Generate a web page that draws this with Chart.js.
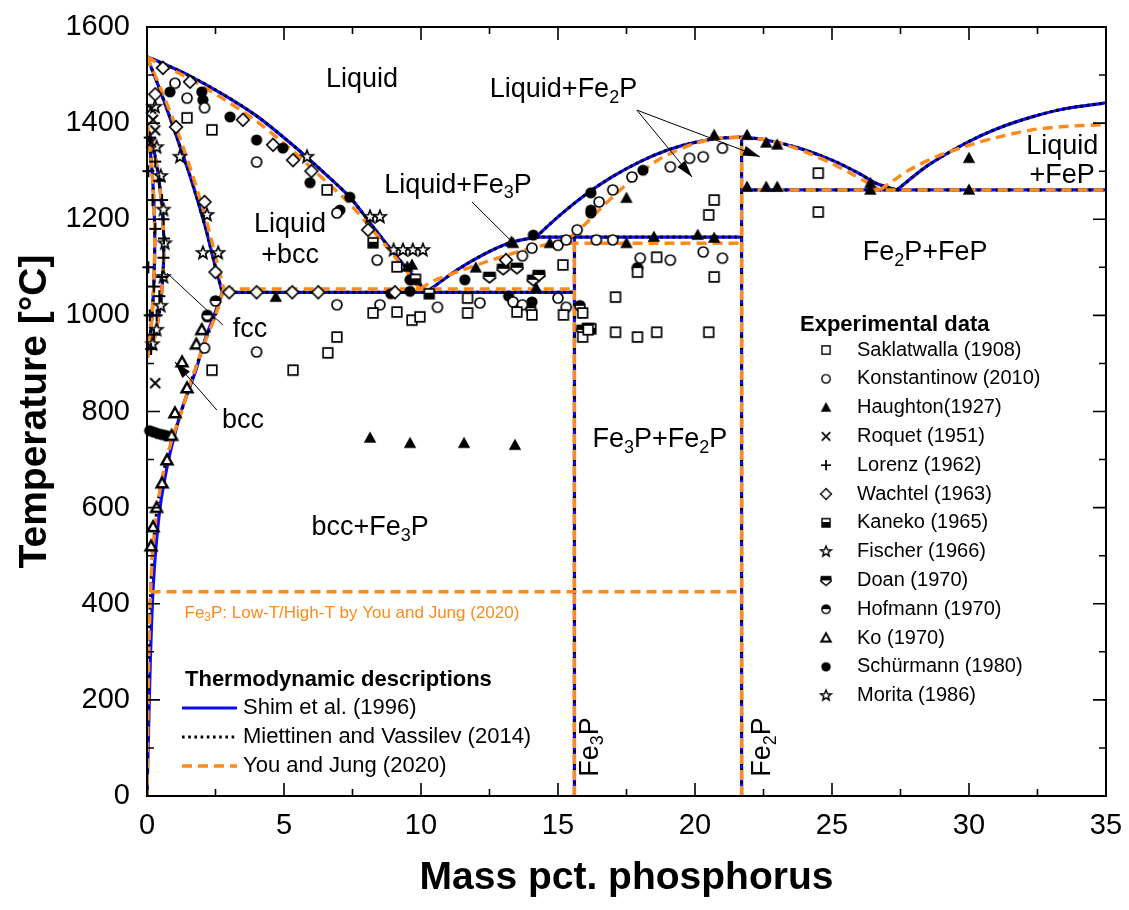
<!DOCTYPE html>
<html><head><meta charset="utf-8">
<script src="https://cdn.jsdelivr.net/npm/chart.js@4.4.1/dist/chart.umd.min.js"></script>
<style>html,body{margin:0;padding:0;background:#fff;}canvas{display:block;}</style>
</head><body>
<canvas id="c" width="1129" height="910"></canvas>
<script>
const FONT = '"Liberation Sans", Arial, Helvetica, sans-serif';
const BLUE = '#0B0BFF', ORANGE = '#FF8A1C';

// ---------- axis ticks ----------
const xMajorTicks = [0,5,10,15,20,25,30,35];
const xMinorTicks = [2.5,7.5,12.5,17.5,22.5,27.5,32.5];
const yMajorTicks = [0,200,400,600,800,1000,1200,1400,1600];
const yMinorTicks = [100,300,500,700,900,1100,1300,1500];

// ---------- Shim et al. (1996) ----------
const shimLiqFe = [[0,1538],[0.5,1526],[1.5,1500],[2.8,1459],[4,1415],[5.2,1360],[6.3,1305],[7.4,1246],[8.2,1188],[9,1130],[9.6,1090],[10.2,1048]];
const shimSolBcc = [[0,1538],[0.5,1465],[1.0,1385],[1.6,1285],[2.1,1190],[2.5,1100],[2.75,1048]];
const shimSolvBcc = [[2.75,1048],[2.45,1000],[2.15,955],[1.75,880],[1.3,810],[1.0,750],[0.75,690],[0.5,610],[0.33,520],[0.22,430],[0.12,280],[0.05,120],[0,0]];
const gammaInner = [[0,1394],[0.12,1340],[0.22,1270],[0.28,1180],[0.26,1080],[0.17,990],[0.07,935],[0,912]];
const gammaOuter = [[0,1394],[0.25,1345],[0.45,1275],[0.6,1180],[0.58,1080],[0.42,995],[0.2,937],[0,912]];
const shimEutectic = [[2.75,1048],[15.6,1048]];
const shimLiqFe3P = [[10.2,1048],[11,1082],[11.7,1108],[12.5,1133],[13.3,1152],[14.2,1163]];
const shimLiqFe2P = [[14.2,1163],[15,1205],[16,1251],[17,1289],[18,1320],[19,1344],[20,1360],[21,1369],[21.7,1371]];
const shimPeritectic = [[14.2,1163],[21.7,1163]];
const shimFe3P = [[15.6,0],[15.6,1163]];
const fe2pLine = [[21.7,0],[21.7,1371]];
const shimLiqFe2PR = [[21.7,1371],[22.6,1365],[23.8,1348],[25,1323],[26,1295],[26.6,1275],[27.37,1261]];
const shimLiqFeP = [[27.37,1261],[28.5,1312],[29.9,1359],[31,1388],[32.3,1413],[33.5,1430],[35,1442]];
const eutecticFeP = [[21.7,1261],[35,1261]];

// ---------- You and Jung (2020) ----------
const yjLiqFe = [[0,1538],[0.5,1522],[1.5,1494],[2.8,1450],[4,1404],[5.2,1348],[6.3,1291],[7.4,1232],[8.2,1180],[9,1125],[9.5,1090],[9.95,1055]];
const yjSolBcc = [[0,1538],[0.55,1465],[1.1,1385],[1.7,1285],[2.2,1190],[2.6,1100],[2.8,1055]];
const yjSolvBcc = [[2.8,1055],[2.5,1000],[2.15,950],[1.65,870],[1.2,790],[0.85,730],[0.55,660],[0.35,590],[0.2,500],[0.13,425],[0.07,300],[0.03,150],[0,0]];
const yjEutectic = [[2.8,1055],[15.6,1055]];
const yjLiqFe3P2P = [[9.95,1055],[10.5,1073],[11.5,1094],[12.3,1110],[13,1123],[14,1140],[14.8,1150],[15.5,1165],[16,1190],[16.5,1219],[17.1,1252],[17.7,1282],[18.7,1325],[19.9,1356],[20.8,1368],[21.7,1371]];
const yjPeritectic = [[14.8,1150],[21.7,1150]];
const yjFe3P = [[15.6,0],[15.6,1150]];
const yjLiqFe2PR = [[21.7,1371],[22.6,1365],[23.3,1355],[24.2,1336],[25,1316],[25.66,1296],[26.3,1276],[26.75,1261]];
const yjLiqFeP = [[26.75,1261],[27.3,1283],[27.8,1302],[28.8,1330],[29.9,1352],[31,1370],[32.3,1386],[33.5,1393],[35,1397]];
const yjFe3PTransition = [[0.13,425],[21.7,425]];

// ---------- Miettinen and Vassilev (2014): follows Shim except bcc solvus ----------
const mvSolvBcc = yjSolvBcc;

// ---------- Experimental data [mass% P, T °C] ----------
const saklatwalla = [[1.46,1411],[2.37,1386],[6.57,1261],[9.12,1101],[2.37,886],[5.33,886],[6.6,922],[6.93,955],[8.25,1005],[9.12,1007],[9.67,990],[9.96,997],[11.7,1036],[11.7,1005],[13.5,1007],[14.05,1001],[15.2,1001],[15.18,1105],[15.9,1005],[15.9,955],[16.1,970],[17.1,1038],[17.1,965],[17.9,955],[18.6,965],[17.9,1090],[18.6,1121],[20.5,965],[20.7,1080],[20.5,1209],[20.7,1240],[24.5,1296],[24.5,1215]];
const konstantinow = [[1.02,1483],[1.46,1452],[2.1,1432],[4.0,1319],[6.93,1213],[8.4,1115],[6.93,1022],[8.5,1022],[4.0,924],[2.1,932],[10.6,1017],[12.15,1026],[13.36,1028],[13.7,1022],[15.0,1036],[15.3,1017],[13.7,1124],[14.05,1140],[15.0,1146],[15.3,1157],[15.7,1178],[16.4,1157],[17.0,1157],[18.0,1119],[19.1,1115],[20.3,1132],[21.0,1119],[16.5,1236],[17.0,1261],[17.7,1288],[19.1,1309],[19.8,1327],[20.3,1330],[21.0,1348]];
const haughton = [[8.14,745],[9.6,734],[11.57,734],[13.43,730],[9.5,1101],[4.7,1038],[9.67,1105],[12.0,1099],[13.3,1153],[14.2,1057],[13.36,1150],[14.7,1150],[17.5,1150],[18.5,1163],[20.1,1167],[20.7,1161],[17.5,1244],[20.7,1375],[21.9,1375],[22.6,1359],[23.0,1355],[21.9,1267],[22.6,1267],[23.0,1267],[26.4,1275],[26.4,1261],[30.0,1327],[30.0,1261]];
const roquet = [[0.15,1430],[0.22,1407],[0.3,1385],[0.15,1360],[0.3,859]];
const lorenz = [[0.1,1370],[0.3,1320],[0.45,1280],[0.55,1240],[0.6,1200],[0.62,1160],[0.6,1120],[0.55,1080],[0.45,1040],[0.35,1000],[0.25,960],[0.15,930],[0.05,1300],[0.05,1100],[0.2,1240],[0.3,1180],[0.25,1060],[0.1,1000]];
const wachtel = [[0.58,1515],[1.57,1486],[1.06,1392],[2.1,1236],[3.5,1407],[4.6,1355],[5.33,1323],[6.0,1300],[8.07,1178],[3.0,1048],[4.0,1048],[5.3,1048],[6.25,1048],[9.05,1048],[13.1,1115],[2.5,1090],[0.3,1460]];
const kaneko = [[8.25,1151],[9.8,1075],[16.2,972],[10.3,1045]];
const fischer = [[8.14,1205],[8.5,1205],[9.34,1136],[9.7,1136],[10.07,1136],[1.2,1330],[2.19,1209],[2.04,1130],[2.6,1130],[0.29,1434],[5.84,1330]];
const doan = [[13.5,1099],[14.1,1074],[14.3,1084],[13.0,1097],[15.9,970],[16.1,974],[12.5,1080]];
const hofmann = [[17.9,1099],[15.8,1020],[14.0,1015],[2.2,1000],[2.5,1030]];
const ko = [[1.46,849],[1.28,903],[1.02,797],[0.73,699],[0.55,651],[0.35,600],[0.22,560],[0.15,520],[1.8,940],[2.0,970],[0.9,750]];
const schurmann = [[0.84,1465],[2.0,1465],[2.04,1448],[3.03,1413],[4.0,1365],[4.96,1348],[5.95,1276],[7.04,1219],[7.4,1246],[9.6,1074],[2.2,997],[16.2,1255],[16.2,1213],[18.1,1302],[14.1,1167],[16.2,1219],[11.6,1074],[14.05,1028],[9.6,1050],[0.1,760],[0.25,757],[0.4,754],[0.55,752],[0.7,750],[13.2,1040],[8.9,1045]];
const morita = [[0.35,1350],[0.5,1290],[0.6,1220],[0.65,1150],[0.6,1080],[0.5,1020],[0.35,970],[0.2,940],[9.0,1136]];

// ---------- marker images ----------
function makeMarker(type){
  const c=document.createElement('canvas'); c.width=18; c.height=18;
  const g=c.getContext('2d'); g.translate(9,9);
  g.strokeStyle='#000'; g.fillStyle='#fff'; g.lineWidth=1.7;
  const poly=(pts)=>{g.beginPath(); pts.forEach(([a,b],i)=>i?g.lineTo(a,b):g.moveTo(a,b)); g.closePath();};
  switch(type){
    case 'sq': g.beginPath(); g.rect(-4.8,-4.8,9.6,9.6); g.fill(); g.stroke(); break;
    case 'circ': g.beginPath(); g.arc(0,0,5,0,2*Math.PI); g.fill(); g.stroke(); break;
    case 'tri': g.fillStyle='#000'; poly([[0,-6.5],[6.2,4.8],[-6.2,4.8]]); g.fill(); break;
    case 'x': g.lineWidth=2; g.beginPath(); g.moveTo(-5,-5); g.lineTo(5,5); g.moveTo(5,-5); g.lineTo(-5,5); g.stroke(); break;
    case 'plus': g.lineWidth=2; g.beginPath(); g.moveTo(-6,0); g.lineTo(6,0); g.moveTo(0,-6); g.lineTo(0,6); g.stroke(); break;
    case 'dia': poly([[0,-6.3],[6.3,0],[0,6.3],[-6.3,0]]); g.fill(); g.stroke(); break;
    case 'sqhalf': g.beginPath(); g.rect(-4.8,-4.8,9.6,9.6); g.fill(); g.fillStyle='#000'; g.fillRect(-4.8,-1,9.6,5.8); g.stroke(); break;
    case 'star': { const pts=[]; for(let k=0;k<10;k++){const r=k%2?2.8:6.5; const a=-Math.PI/2+k*Math.PI/5; pts.push([r*Math.cos(a), r*Math.sin(a)]);} poly(pts); g.fill(); g.stroke(); break; }
    case 'pent': { const P=[[-5.5,-4.5],[5.5,-4.5],[6,1],[0,5.8],[-6,1]]; poly(P); g.fill(); g.save(); g.clip(); g.fillStyle='#000'; g.fillRect(-8,-8,16,8); g.restore(); poly(P); g.stroke(); break; }
    case 'circhalf': g.beginPath(); g.arc(0,0,5,0,2*Math.PI); g.fill(); g.save(); g.clip(); g.fillStyle='#000'; g.fillRect(-8,-8,16,8); g.restore(); g.beginPath(); g.arc(0,0,5,0,2*Math.PI); g.stroke(); break;
    case 'trio': g.lineWidth=2.4; poly([[0,-5.5],[5.5,4.3],[-5.5,4.3]]); g.fill(); g.stroke(); break;
    case 'dot': g.fillStyle='#000'; g.beginPath(); g.arc(0,0,5.6,0,2*Math.PI); g.fill(); break;
  }
  return c;
}

const expSeries = [
  {label:'Saklatwalla (1908)', data:saklatwalla, mk:'sq'},
  {label:'Konstantinow (2010)', data:konstantinow, mk:'circ'},
  {label:'Haughton(1927)', data:haughton, mk:'tri'},
  {label:'Roquet (1951)', data:roquet, mk:'x'},
  {label:'Lorenz (1962)', data:lorenz, mk:'plus'},
  {label:'Wachtel (1963)', data:wachtel, mk:'dia'},
  {label:'Kaneko (1965)', data:kaneko, mk:'sqhalf'},
  {label:'Fischer (1966)', data:fischer, mk:'star'},
  {label:'Doan (1970)', data:doan, mk:'pent'},
  {label:'Hofmann (1970)', data:hofmann, mk:'circhalf'},
  {label:'Ko (1970)', data:ko, mk:'trio'},
  {label:'Schürmann (1980)', data:schurmann, mk:'dot'},
  {label:'Morita (1986)', data:morita, mk:'star'},
];
expSeries.forEach(s=>s.img=makeMarker(s.mk));

const pts = arr => arr.map(([x,y])=>({x,y}));
const datasets = [];
expSeries.forEach(s=>datasets.push({label:s.label, data:pts(s.data), showLine:false, pointStyle:s.img, pointRadius:6, clip:false, order:0}));

const thermo = [
  {label:'Shim et al. (1996)', color:BLUE, dash:[], width:3.2, order:3,
   segs:[shimLiqFe,shimSolBcc,shimSolvBcc,gammaInner,gammaOuter,shimEutectic,shimLiqFe3P,shimLiqFe2P,shimPeritectic,shimFe3P,fe2pLine,shimLiqFe2PR,shimLiqFeP,eutecticFeP]},
  {label:'Miettinen and Vassilev (2014)', color:'#000', dash:[2.6,3.6], width:3, order:2,
   segs:[shimLiqFe,shimSolBcc,mvSolvBcc,gammaInner,gammaOuter,shimEutectic,shimLiqFe3P,shimLiqFe2P,shimPeritectic,shimFe3P,fe2pLine,shimLiqFe2PR,shimLiqFeP,eutecticFeP]},
  {label:'You and Jung (2020)', color:ORANGE, dash:[10,6], width:3.4, order:1,
   segs:[yjLiqFe,yjSolBcc,yjSolvBcc,gammaInner,gammaOuter,yjEutectic,yjLiqFe3P2P,yjPeritectic,yjFe3P,fe2pLine,yjLiqFe2PR,yjLiqFeP,eutecticFeP,yjFe3PTransition]},
];
thermo.forEach(t=>t.segs.forEach(seg=>datasets.push({
  label:t.label, data:pts(seg), showLine:true, pointRadius:0, borderColor:t.color,
  borderWidth:t.width, borderDash:t.dash, tension:seg.length>2?0.3:0, fill:false, order:t.order
})));

// ---------- annotations ----------
const labels = [
  {parts:[['Liquid']], x:7.85, y:1490},
  {parts:[['Liquid']], x:5.22, y:1188},
  {parts:[['+bcc']], x:5.22, y:1124},
  {parts:[['Liquid+Fe'],['3',1],['P']], x:11.35, y:1271},
  {parts:[['Liquid+Fe'],['2',1],['P']], x:15.2, y:1469},
  {parts:[['Fe'],['2',1],['P+FeP']], x:28.4, y:1130},
  {parts:[['Liquid']], x:33.4, y:1352},
  {parts:[['+FeP']], x:33.4, y:1290},
  {parts:[['Fe'],['3',1],['P+Fe'],['2',1],['P']], x:18.72, y:741},
  {parts:[['bcc+Fe'],['3',1],['P']], x:8.14, y:558},
  {parts:[['fcc']], x:3.76, y:970},
  {parts:[['bcc']], x:3.5, y:782},
  {parts:[['Fe'],['3',1],['P']], x:16.17, y:102, rot:true},
  {parts:[['Fe'],['2',1],['P']], x:22.48, y:102, rot:true},
  {parts:[['Fe'],['3',1],['P: Low-T/High-T by You and Jung (2020)']], x:7.48, y:381, size:17, color:ORANGE},
];
const leaders = [
  {from:[11.86,1236], to:[13.36,1151], head:false},
  {from:[17.88,1427], to:[19.89,1288], head:true},
  {from:[17.88,1427], to:[22.37,1330], head:true},
  {from:[0.73,1088], to:[2.77,980], head:false},
  {from:[2.55,803], to:[1.02,903], head:true},
];

function drawRich(ctx, parts, cx, cy, size, color){
  ctx.fillStyle=color; ctx.textBaseline='middle'; ctx.textAlign='left';
  const sub=Math.round(size*0.68);
  let w=0;
  parts.forEach(([t,s])=>{ctx.font=(s?sub:size)+'px '+FONT; w+=ctx.measureText(t).width;});
  let x=cx-w/2;
  parts.forEach(([t,s])=>{ctx.font=(s?sub:size)+'px '+FONT; ctx.fillText(t,x,cy+(s?size*0.3:0)); x+=ctx.measureText(t).width;});
}

const annotPlugin = {
  id:'annot',
  afterDatasetsDraw(chart){
    const {ctx, scales:{x,y}} = chart;
    ctx.save();
    labels.forEach(l=>{
      const px=x.getPixelForValue(l.x), py=y.getPixelForValue(l.y);
      const size=l.size||27, color=l.color||'#000';
      if(l.rot){ ctx.save(); ctx.translate(px,py); ctx.rotate(-Math.PI/2); drawRich(ctx,l.parts,0,0,size,color); ctx.restore(); }
      else drawRich(ctx,l.parts,px,py,size,color);
    });
    ctx.strokeStyle='#000'; ctx.fillStyle='#000'; ctx.lineWidth=1;
    leaders.forEach(L=>{
      const x0=x.getPixelForValue(L.from[0]), y0=y.getPixelForValue(L.from[1]);
      const x1=x.getPixelForValue(L.to[0]), y1=y.getPixelForValue(L.to[1]);
      ctx.beginPath(); ctx.moveTo(x0,y0); ctx.lineTo(x1,y1); ctx.stroke();
      if(L.head){
        const a=Math.atan2(y1-y0,x1-x0), len=17, hw=5;
        const bx=x1-len*Math.cos(a), by=y1-len*Math.sin(a);
        ctx.beginPath(); ctx.moveTo(x1,y1);
        ctx.lineTo(bx+hw*Math.sin(a), by-hw*Math.cos(a));
        ctx.lineTo(bx-hw*Math.sin(a), by+hw*Math.cos(a));
        ctx.closePath(); ctx.fill();
      }
    });
    ctx.restore();
  },
  afterDraw(chart){
    const {ctx, chartArea:a, scales:{x,y}} = chart;
    ctx.save();
    ctx.strokeStyle='#000'; ctx.lineWidth=1.6; ctx.beginPath();
    const xt=(vals,len)=>vals.forEach(v=>{const p=x.getPixelForValue(v); ctx.moveTo(p,a.bottom); ctx.lineTo(p,a.bottom-len); ctx.moveTo(p,a.top); ctx.lineTo(p,a.top+len);});
    const yt=(vals,len)=>vals.forEach(v=>{const p=y.getPixelForValue(v); ctx.moveTo(a.left,p); ctx.lineTo(a.left+len,p); ctx.moveTo(a.right,p); ctx.lineTo(a.right-len,p);});
    xt(xMajorTicks,13); xt(xMinorTicks,7); yt(yMajorTicks,13); yt(yMinorTicks,7);
    ctx.stroke();
    ctx.lineWidth=2; ctx.strokeRect(a.left,a.top,a.right-a.left,a.bottom-a.top);

    ctx.fillStyle='#000'; ctx.textBaseline='middle'; ctx.textAlign='left';
    ctx.font='bold 22px '+FONT; ctx.fillText('Thermodynamic descriptions',185,680);
    thermo.forEach((t,i)=>{
      const yy=708+i*29;
      ctx.save(); ctx.strokeStyle=t.color; ctx.lineWidth=t.width; ctx.setLineDash(t.dash);
      ctx.beginPath(); ctx.moveTo(182,yy); ctx.lineTo(237,yy); ctx.stroke(); ctx.restore();
      ctx.fillStyle='#000'; ctx.font='22px '+FONT; ctx.fillText(t.label,243,yy);
    });

    ctx.font='bold 22px '+FONT; ctx.fillText('Experimental data',800,325);
    ctx.font='20px '+FONT;
    expSeries.forEach((s,i)=>{
      const yy=350+i*28.8, w=s.img.width*0.85;
      ctx.drawImage(s.img,826-w/2,yy-w/2,w,w);
      ctx.fillText(s.label,857,yy);
    });
    ctx.restore();
  }
};

new Chart(document.getElementById('c').getContext('2d'), {
  type:'scatter',
  data:{datasets},
  options:{
    responsive:false, animation:false, events:[],
    layout:{padding:{top:27,right:23,left:0,bottom:0}},
    plugins:{legend:{display:false}, tooltip:{enabled:false}},
    scales:{
      x:{type:'linear', min:0, max:35,
        ticks:{stepSize:5, autoSkip:false, maxRotation:0, color:'#000', padding:13, font:{family:FONT,size:29}, callback:v=>String(v)},
        grid:{display:false, drawTicks:false}, border:{display:false},
        title:{display:true, text:'Mass pct. phosphorus', color:'#000', font:{family:FONT,size:39,weight:'bold'}, padding:{top:0,bottom:8}},
        afterFit:(s)=>{s.height=114; s.paddingLeft=0; s.paddingRight=0;}},
      y:{type:'linear', min:0, max:1600,
        ticks:{stepSize:200, autoSkip:false, color:'#000', padding:17, font:{family:FONT,size:29}, callback:v=>String(v)},
        grid:{display:false, drawTicks:false}, border:{display:false},
        title:{display:true, text:'Temperature [°C]', color:'#000', font:{family:FONT,size:39,weight:'bold'}, padding:{top:12,bottom:0}},
        afterFit:(s)=>{s.width=147; s.paddingTop=0; s.paddingBottom=0;}}
    }
  },
  plugins:[annotPlugin]
});
</script>
</body></html>
